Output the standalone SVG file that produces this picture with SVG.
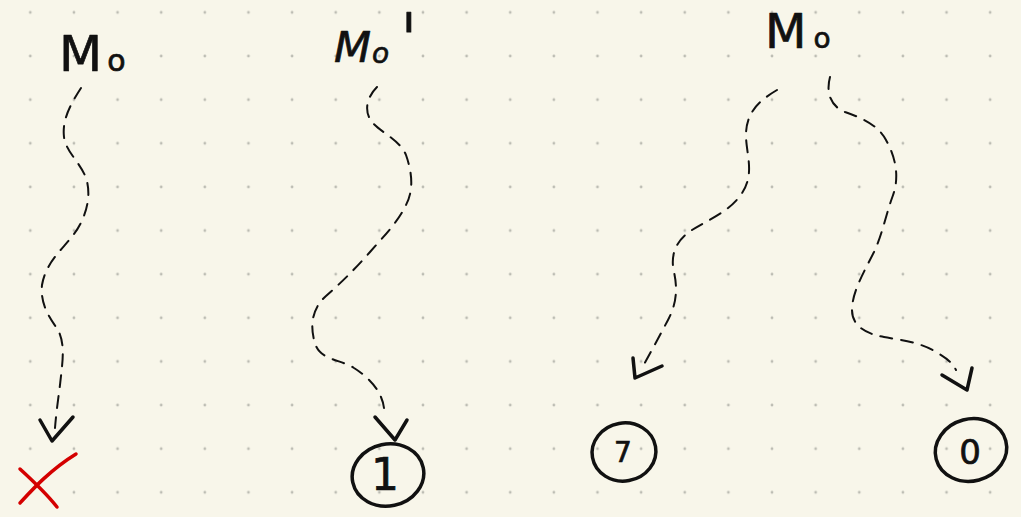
<svg xmlns="http://www.w3.org/2000/svg" width="1021" height="517" viewBox="0 0 1021 517">
<style>
.lbl{font-family:"DejaVu Sans","Liberation Sans",sans-serif;fill:#111;stroke:#111;stroke-width:0.7;stroke-linejoin:round}
.num{font-family:"DejaVu Sans","Liberation Sans",sans-serif;fill:#111;stroke:#111;stroke-width:0.7;text-anchor:middle}
.ring{fill:none;stroke:#111;stroke-width:3.5}
.dash{fill:none;stroke:#111;stroke-width:2;stroke-dasharray:12 9;stroke-linecap:round}
.head{fill:none;stroke:#111;stroke-width:3.5;stroke-linecap:round;stroke-linejoin:round}
.cross{fill:none;stroke:#d40000;stroke-width:3.5;stroke-linecap:round}
</style>
<defs>
<pattern id="dots" patternUnits="userSpaceOnUse" x="8.5" y="-9.4" width="43.63" height="43.63">
<circle cx="21.8" cy="21.8" r="1.4" fill="#bcbcb3"/>
</pattern>
</defs>
<rect width="1021" height="517" fill="#f8f6ea"/>
<rect width="1021" height="517" fill="url(#dots)"/>

<g id="label-m0-left">
<text class="lbl" x="59" y="71" font-size="50">M<tspan font-size="30" dx="5">o</tspan></text>
</g>
<g id="label-m0-prime">
<text class="lbl" x="334" y="62" font-size="43" font-style="italic">M<tspan font-size="28" dx="1" dy="1">o</tspan></text>
<text class="lbl" x="0" y="0" font-size="50" transform="translate(402,66) scale(1,1.45)">'</text>
</g>
<g id="label-m0-right">
<text class="lbl" x="765" y="48" font-size="48">M<tspan font-size="28" dx="7">o</tspan></text>
</g>

<g id="node-x">
<path class="cross" d="M20,503 C32,490 50,470 76,454"/>
<path class="cross" d="M20,469 C32,480 46,493 57,507"/>
</g>
<g id="node-1">
<ellipse class="ring" cx="388" cy="475" rx="36" ry="31" transform="rotate(-12 388 475)"/>
<text class="num" x="385" y="490" font-size="44">1</text>
</g>
<g id="node-7">
<ellipse class="ring" cx="624" cy="452" rx="32" ry="29" transform="rotate(-10 624 452)"/>
<text class="num" x="623" y="462" font-size="28">7</text>
</g>
<g id="node-0">
<ellipse class="ring" cx="971" cy="450" rx="36" ry="31" transform="rotate(-15 971 450)"/>
<text class="num" x="970" y="464" font-size="34">0</text>
</g>

<g id="connectors">
<path class="dash" d="M81,88 C70,105 62,120 64,137 C66,152 80,162 86,178 C92,196 86,218 74,234 C62,250 46,262 42,285 C40,305 50,318 58,330 C66,345 62,365 60,385 C58,400 56,415 55,428"/>
<polyline class="head" points="40,420 52,441 73,417"/>
<path class="dash" d="M377,87 C366,98 364,112 372,122 C380,132 400,140 406,155 C412,172 414,190 406,205 C398,222 384,236 370,252 C356,268 342,282 326,296 C310,310 310,330 316,346 C322,360 342,360 354,368 C370,378 382,392 384,408"/>
<polyline class="head" points="375,417 395,440 407,420"/>
<path class="dash" d="M777,90 C760,100 746,112 746,135 C746,155 756,175 740,196 C728,212 708,220 692,230 C676,240 670,255 674,272 C678,290 676,305 668,320 C660,335 652,350 642,368"/>
<polyline class="head" points="633,358 635,378 662,366"/>
<path class="dash" d="M830,77 C826,92 830,106 845,112 C862,118 878,125 886,140 C896,158 900,178 892,198 C886,215 882,235 874,252 C864,272 852,292 852,310 C852,326 866,334 884,337 C900,340 920,342 936,352 C946,358 952,362 956,370"/>
<polyline class="head" points="942,375 967,390 972,368"/>
</g>
</svg>
